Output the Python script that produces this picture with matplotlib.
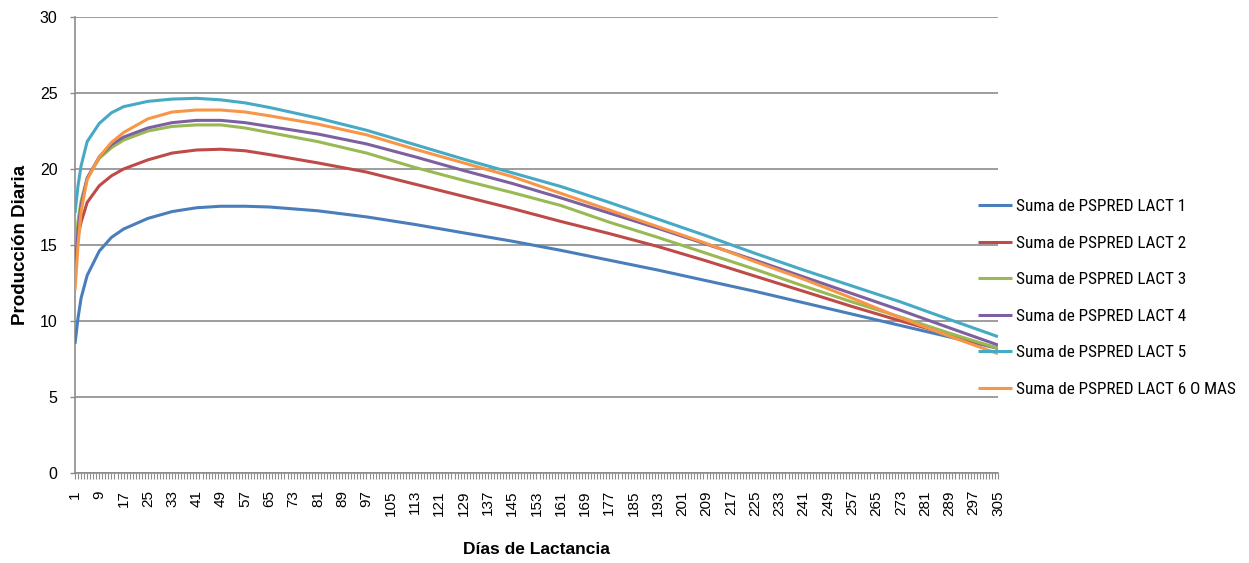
import matplotlib
matplotlib.use("Agg")
import matplotlib.pyplot as plt
from matplotlib import font_manager

# Days at which the predicted daily production was read
days = [1, 2, 3, 5, 9, 13, 17, 25, 33, 41, 49, 57, 65, 81, 97, 113, 129,
        145, 161, 177, 193, 209, 225, 241, 257, 273, 289, 305]

lact1 = [8.5, 10.2, 11.5, 13.0, 14.6, 15.5, 16.05, 16.75, 17.2, 17.45, 17.55,
         17.55, 17.5, 17.25, 16.85, 16.35, 15.8, 15.25, 14.65, 14.0, 13.35,
         12.65, 11.95, 11.2, 10.45, 9.7, 8.95, 8.2]
lact2 = [14.0, 15.6, 16.5, 17.8, 18.9, 19.55, 20.0, 20.6, 21.05, 21.25, 21.3,
         21.2, 20.95, 20.4, 19.8, 19.0, 18.2, 17.4, 16.55, 15.75, 14.9, 13.95,
         12.95, 11.95, 10.95, 10.0, 9.1, 8.2]
lact3 = [14.5, 16.6, 17.9, 19.4, 20.7, 21.4, 21.9, 22.5, 22.8, 22.9, 22.9,
         22.7, 22.4, 21.8, 21.05, 20.1, 19.25, 18.45, 17.6, 16.5, 15.5, 14.45,
         13.4, 12.3, 11.25, 10.25, 9.2, 8.2]
lact4 = [13.2, 16.0, 17.6, 19.4, 20.8, 21.6, 22.1, 22.7, 23.05, 23.2, 23.2,
         23.05, 22.8, 22.3, 21.65, 20.8, 19.9, 19.05, 18.1, 17.1, 16.1, 15.05,
         14.0, 12.9, 11.8, 10.7, 9.55, 8.42]
lact5 = [17.1, 18.9, 20.2, 21.8, 23.0, 23.7, 24.1, 24.45, 24.6, 24.65, 24.55,
         24.35, 24.05, 23.35, 22.55, 21.6, 20.65, 19.75, 18.85, 17.8, 16.7,
         15.6, 14.45, 13.35, 12.3, 11.25, 10.1, 8.97]
lact6 = [12.0, 15.0, 17.2, 19.3, 20.8, 21.75, 22.4, 23.3, 23.75, 23.88, 23.88,
         23.75, 23.5, 22.95, 22.25, 21.3, 20.4, 19.5, 18.4, 17.3, 16.2, 15.1,
         13.9, 12.75, 11.5, 10.2, 9.0, 7.85]

series_names = ["Suma de PSPRED LACT 1", "Suma de PSPRED LACT 2",
                "Suma de PSPRED LACT 3", "Suma de PSPRED LACT 4",
                "Suma de PSPRED LACT 5", "Suma de PSPRED LACT 6 O MAS"]
series_values = [lact1, lact2, lact3, lact4, lact5, lact6]
colors = ["#4A7EBB", "#BE4B48", "#98B954", "#7D60A0", "#46AAC5", "#F79646"]

x_tick_days = list(range(1, 306, 8))
y_ticks = [0, 5, 10, 15, 20, 25, 30]

available = {f.name for f in font_manager.fontManager.ttflist}


def pick(*names):
    for n in names:
        if n in available:
            return n
    return "DejaVu Sans"


narrow = pick("Liberation Sans Narrow", "Roboto Condensed", "Open Sans Condensed",
              "Noto Sans Condensed")
regular = pick("Liberation Sans", "Arial", "Roboto")
if narrow == "DejaVu Sans":
    narrow, legend_size = regular, 10.2
else:
    legend_size = 12.3

W, H, DPI = 1249, 563, 100
fig = plt.figure(figsize=(W / DPI, H / DPI), dpi=DPI)
fig.patch.set_facecolor("white")

left, right, top, bottom = 75, 998, 17, 473
ax = fig.add_axes([left / W, 1 - bottom / H, (right - left) / W, (bottom - top) / H])

lines = []
for name, vals, c in zip(series_names, series_values, colors):
    ln, = ax.plot(days, vals, color=c, lw=2.2, label=name, solid_capstyle="butt",
                  solid_joinstyle="round", zorder=3)
    lines.append(ln)

ax.set_xlim(1, 305)
ax.set_ylim(0, 30)

grid_c = "#8C8C8C"
ax.set_yticks(y_ticks)
ax.set_yticklabels([str(v) for v in y_ticks], fontfamily=regular, fontsize=11.5)
ax.yaxis.grid(True, color=grid_c, lw=1.2, zorder=1)
ax.set_axisbelow(True)

ax.set_xticks(x_tick_days)
ax.set_xticklabels([str(d) for d in x_tick_days], rotation=90,
                   fontfamily=regular, fontsize=11)
ax.set_xticks(range(1, 306), minor=True)
ax.tick_params(axis="x", which="both", direction="out", length=4.3, width=0.8,
               color=grid_c, pad=8)
ax.tick_params(axis="y", which="major", direction="out", length=3.6, width=1.0,
               color=grid_c, pad=9)

for side in ("top", "right"):
    ax.spines[side].set_visible(False)
for side in ("left", "bottom"):
    ax.spines[side].set_color(grid_c)
    ax.spines[side].set_linewidth(1.2)

ax.set_xlabel("Días de Lactancia", fontfamily=regular, fontweight="bold",
              fontsize=12.5, labelpad=19)
ax.set_ylabel("Producción Diaria", fontfamily=regular, fontweight="bold",
              fontsize=13.5, labelpad=8)

leg = fig.legend(handles=lines, loc="center left",
                 bbox_to_anchor=(978 / W, 1 - 298 / H),
                 frameon=False, borderpad=0, borderaxespad=0,
                 handlelength=2.0, handletextpad=0.25, labelspacing=1.26,
                 prop={"family": narrow, "size": legend_size})

fig.savefig("out.png", dpi=DPI, facecolor="white")
